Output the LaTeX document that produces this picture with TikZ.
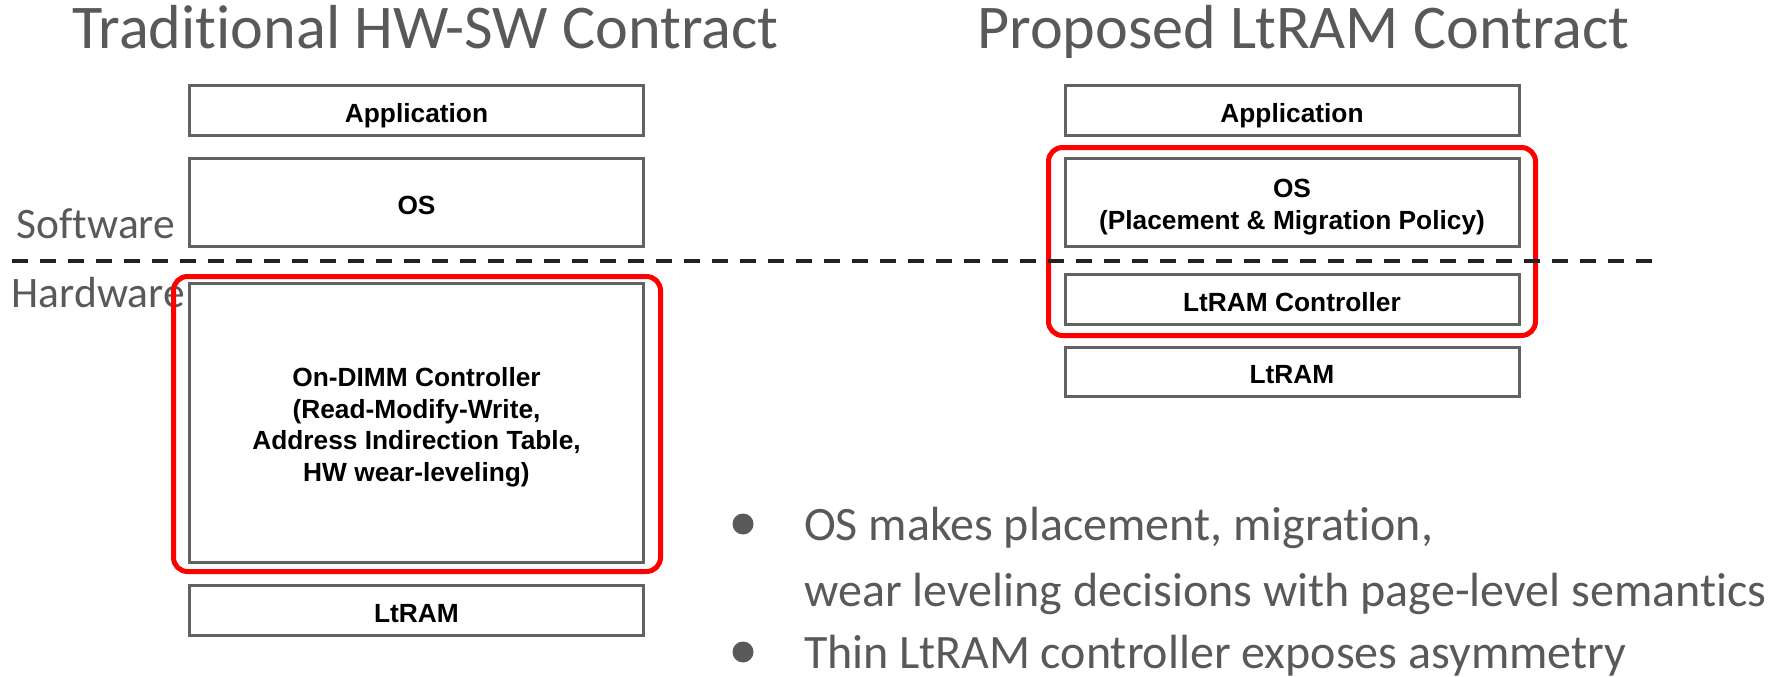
\documentclass[tikz,border=0pt]{standalone}
\usepackage{fontspec}
\setmainfont{Liberation Sans}
\newfontfamily\slidefont[Ligatures=NoCommon]{Carlito}
\definecolor{slategray}{HTML}{595959}
\definecolor{boxgray}{HTML}{626262}
\definecolor{hired}{HTML}{FF0000}
\definecolor{dashink}{HTML}{222222}
\begin{document}
\begin{tikzpicture}[x=1pt,y=-1pt,
  layer/.style={draw=boxgray, line width=3pt, fill=white, minimum width=454pt,
    inner sep=0pt, align=center, text=black, text height=23pt, text depth=0pt,
    font=\bfseries\fontsize{26.3}{31.6}\selectfont},
  heading/.style={font=\slidefont\fontsize{62.2}{74}\selectfont, text=slategray,
    inner sep=0pt, anchor=base west},
  sidelabel/.style={font=\slidefont\fontsize{43.5}{52}\selectfont, text=slategray,
    inner sep=0pt, anchor=base west},
  bullettext/.style={font=\slidefont\fontsize{48}{58}\selectfont, text=slategray,
    inner sep=0pt, anchor=base west},
  bulletdot/.style={circle, fill=slategray, minimum size=21pt, inner sep=0pt},
  hilite/.style={draw=hired, line width=5pt, rounded corners=14pt},
  divider/.style={draw=dashink, line width=4pt, dash pattern=on 15.5pt off 12.5pt}]
\useasboundingbox (0,0) rectangle (1789,677);

% headings
\node[heading] (ltitle) at (72,49) {Traditional HW-SW Contract};
\node[heading] (rtitle) at (977,49) {Proposed LtRAM Contract};

% side labels
\node[sidelabel] (swlabel) at (16.5,238) {Software};
\node[sidelabel] (hwlabel) at (11.5,307) {Hardware};

% traditional stack
\node[layer, minimum height=50pt] (lapp) at (416.5,110.5) {Application};
\node[layer, minimum height=88pt] (los) at (416.5,202.5) {OS};
\node[layer, minimum height=279pt, text height=117pt] (ldimm) at (416.5,423) {On-DIMM Controller\\(Read-Modify-Write,\\Address Indirection Table,\\HW wear-leveling)};
\node[layer, minimum height=50pt] (lram) at (416.5,610.5) {LtRAM};

% proposed stack
\node[layer, minimum height=50pt] (rapp) at (1292,110.5) {Application};
\node[layer, minimum height=88pt, text height=54pt] (ros) at (1292,202.5) {OS\\(Placement \& Migration Policy)};
\node[layer, minimum height=50pt] (rctrl) at (1292,299.5) {LtRAM Controller};
\node[layer, minimum height=49pt] (rram) at (1292,372) {LtRAM};

% highlighted groups
\draw[hilite] (173.5,276.5) rectangle (660.5,571.5);
\draw[hilite] (1048.5,147.5) rectangle (1535.5,335.5);

% software / hardware boundary
\coordinate (sepL) at (12,261);
\coordinate (sepR) at (1652,261);
\draw[divider] (sepL) -- (sepR);

% bullet points
\node[bulletdot] (dot1) at (743,524) {};
\node[bullettext] (pt1a) at (804,540) {OS makes placement, migration,};
\node[bullettext] (pt1b) at (804,606) {wear leveling decisions with page-level semantics};
\node[bulletdot] (dot2) at (743,652) {};
\node[bullettext] (pt2) at (804,668) {Thin LtRAM controller exposes asymmetry};
\end{tikzpicture}
\end{document}
